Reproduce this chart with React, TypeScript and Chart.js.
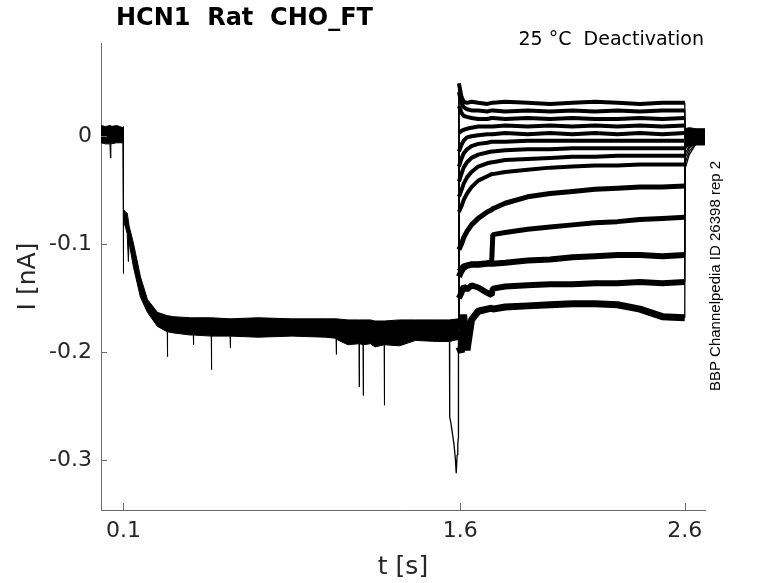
import React, { useRef, useEffect } from 'react';
import Chart from 'chart.js/auto';

const FONT = "'DejaVu Sans', sans-serif";
const INK = '#262626';
const AXIS = '#6b6b6b';

const xTicks = [0.1, 1.6, 2.6];
const yTicks = [0, -0.1, -0.2, -0.3];

// holding + activation step, shared by all sweeps: upper / lower edge of the noise band
const envT = [
  0, 0.02, 0.04, 0.042, 0.044, 0.07, 0.098, 0.0995, 0.1, 0.101, 0.11, 0.1165, 0.122, 0.125,
  0.1445, 0.1757, 0.2068, 0.2513, 0.295, 0.296, 0.297, 0.3225, 0.398, 0.411, 0.412, 0.413,
  0.491, 0.492, 0.493, 0.575, 0.576, 0.577, 0.7, 0.85, 1.0, 1.047, 1.048, 1.049, 1.1, 1.149,
  1.15, 1.151, 1.167, 1.168, 1.169, 1.2, 1.22, 1.261, 1.262, 1.263, 1.33, 1.4, 1.5, 1.551, 1.593,
];
const envUpper = [
  0.010, 0.009, 0.010, 0.010, 0.009, 0.010, 0.008, 0.009, -0.066, -0.068, -0.070, -0.071, -0.078, -0.083,
  -0.099, -0.130, -0.151, -0.163, -0.166, -0.166, -0.166, -0.167, -0.168, -0.168, -0.168, -0.168,
  -0.168, -0.168, -0.168, -0.169, -0.169, -0.169, -0.168, -0.169, -0.169, -0.169, -0.169, -0.169, -0.170, -0.170,
  -0.170, -0.170, -0.170, -0.170, -0.170, -0.170, -0.171, -0.171, -0.171, -0.171, -0.170, -0.170, -0.170, -0.170, -0.169,
];
const envLower = [
  -0.006, -0.007, -0.007, -0.020, -0.007, -0.006, -0.006, -0.006, -0.127, -0.078, -0.085, -0.090, -0.116, -0.098,
  -0.121, -0.149, -0.163, -0.176, -0.181, -0.204, -0.181, -0.182, -0.184, -0.184, -0.193, -0.184,
  -0.185, -0.216, -0.185, -0.185, -0.196, -0.185, -0.186, -0.185, -0.186, -0.187, -0.202, -0.188, -0.193, -0.192,
  -0.232, -0.192, -0.193, -0.240, -0.193, -0.192, -0.195, -0.193, -0.249, -0.193, -0.194, -0.189, -0.190, -0.190, -0.188,
];

// the single sweep that dips just before the deactivation step
const dipT = [1.552, 1.553, 1.558, 1.565, 1.572, 1.578, 1.582, 1.586, 1.589, 1.591, 1.592];
const dipI = [-0.19, -0.26, -0.265, -0.275, -0.285, -0.298, -0.312, -0.295, -0.285, -0.28, -0.18];

// deactivation tails, one row per sweep (top to bottom)
const tailT = [1.593, 1.594, 1.605, 1.615, 1.63, 1.65, 1.68, 1.72, 1.74, 1.745, 1.8, 1.9, 2.0, 2.1, 2.2, 2.3, 2.4, 2.5, 2.6, 2.601, 2.62, 2.65];
const sweepA = [-0.178, 0.049, 0.037, 0.032, 0.031, 0.032, 0.031, 0.030, 0.031, 0.031, 0.032, 0.031, 0.030, 0.031, 0.032, 0.031, 0.030, 0.031, 0.031, 0.003, 0.002, 0.001];
const sweepB = [-0.178, 0.041, 0.031, 0.027, 0.025, 0.024, 0.024, 0.023, 0.024, 0.024, 0.023, 0.024, 0.023, 0.024, 0.023, 0.024, 0.023, 0.024, 0.024, 0.001, 0.000, 0.000];
const sweepC = [-0.178, 0.028, 0.022, 0.019, 0.018, 0.017, 0.016, 0.016, 0.017, 0.017, 0.016, 0.017, 0.016, 0.017, 0.016, 0.016, 0.017, 0.016, 0.017, -0.001, -0.001, 0.000];
const sweepD = [-0.178, 0.003, 0.005, 0.006, 0.007, 0.008, 0.009, 0.009, 0.009, 0.009, 0.010, 0.009, 0.010, 0.009, 0.010, 0.009, 0.010, 0.009, 0.010, -0.002, -0.001, 0.000];
const sweepE = [-0.178, -0.014, -0.008, -0.004, -0.001, 0.000, 0.001, 0.002, 0.002, 0.002, 0.003, 0.002, 0.003, 0.002, 0.003, 0.002, 0.003, 0.002, 0.003, -0.003, -0.002, -0.001];
const sweepF = [-0.178, -0.028, -0.021, -0.016, -0.012, -0.009, -0.007, -0.006, -0.005, -0.005, -0.005, -0.004, -0.004, -0.004, -0.004, -0.004, -0.004, -0.004, -0.004, -0.004, -0.003, -0.001];
const sweepG = [-0.178, -0.042, -0.035, -0.029, -0.024, -0.020, -0.017, -0.015, -0.014, -0.014, -0.013, -0.012, -0.012, -0.011, -0.011, -0.011, -0.011, -0.011, -0.011, -0.005, -0.003, -0.001];
const sweepH = [-0.178, -0.056, -0.050, -0.044, -0.038, -0.033, -0.028, -0.025, -0.024, -0.024, -0.022, -0.021, -0.020, -0.019, -0.019, -0.018, -0.018, -0.018, -0.018, -0.006, -0.004, -0.002];
const sweepI = [-0.178, -0.070, -0.065, -0.059, -0.053, -0.047, -0.041, -0.037, -0.035, -0.035, -0.033, -0.031, -0.029, -0.028, -0.027, -0.027, -0.026, -0.026, -0.026, -0.008, -0.005, -0.002];
const sweepJ = [-0.178, -0.105, -0.100, -0.094, -0.088, -0.082, -0.076, -0.070, -0.068, -0.067, -0.062, -0.056, -0.053, -0.051, -0.049, -0.048, -0.047, -0.047, -0.046, -0.012, -0.007, -0.003];
const sweepK = [-0.178, -0.125, -0.122, -0.120, -0.119, -0.118, -0.118, -0.117, -0.116, -0.091, -0.089, -0.086, -0.084, -0.082, -0.080, -0.079, -0.077, -0.076, -0.075, -0.016, -0.009, -0.004];
const sweepL = [-0.178, -0.130, -0.125, -0.122, -0.120, -0.119, -0.119, -0.118, -0.118, -0.118, -0.117, -0.115, -0.114, -0.112, -0.111, -0.110, -0.110, -0.111, -0.110, -0.020, -0.011, -0.005];
const sweepM = [-0.178, -0.150, -0.145, -0.139, -0.142, -0.138, -0.140, -0.145, -0.147, -0.141, -0.139, -0.138, -0.137, -0.137, -0.136, -0.136, -0.135, -0.136, -0.135, -0.025, -0.014, -0.006];
const sweepN = [-0.178, -0.195, -0.200, -0.165, -0.198, -0.170, -0.162, -0.160, -0.159, -0.160, -0.158, -0.157, -0.156, -0.155, -0.155, -0.156, -0.160, -0.167, -0.168, -0.030, -0.017, -0.007];
const sweeps = [sweepA, sweepB, sweepC, sweepD, sweepE, sweepF, sweepG, sweepH, sweepI, sweepJ, sweepK, sweepL, sweepM, sweepN];
// visual thickness of each tail's noise
const noiseWidth = [4, 4, 4, 4, 4, 4, 4, 4, 4, 5, 5, 6, 6, 7];

// back at holding potential
const endT = [2.6, 2.62, 2.65, 2.69];
const endUpper = [0.007, 0.008, 0.007, 0.007];
const endLower = [-0.009, -0.009, -0.008, -0.008];

const pts = (t: number[], v: number[]) => t.map((x, i) => ({ x, y: v[i] }));

const overlay = {
  id: 'overlay',
  afterDraw(chart: any) {
    const { ctx, chartArea: a, scales } = chart;
    ctx.save();
    ctx.strokeStyle = AXIS;
    ctx.lineWidth = 1;
    ctx.beginPath();
    xTicks.forEach((v) => {
      const px = Math.round(scales.x.getPixelForValue(v)) + 0.5;
      ctx.moveTo(px, a.bottom);
      ctx.lineTo(px, a.bottom - 7);
    });
    yTicks.forEach((v) => {
      const py = Math.round(scales.y.getPixelForValue(v)) + 0.5;
      ctx.moveTo(a.left, py);
      ctx.lineTo(a.left + 6, py);
    });
    ctx.stroke();

    ctx.fillStyle = '#000';
    ctx.textBaseline = 'middle';
    ctx.textAlign = 'left';
    ctx.font = `bold 24px ${FONT}`;
    ctx.fillText('HCN1  Rat  CHO_FT', 116, 19);
    ctx.textAlign = 'right';
    ctx.font = `19px ${FONT}`;
    ctx.fillText('25 °C  Deactivation', 704, 40);

    ctx.translate(716, 276);
    ctx.rotate(-Math.PI / 2);
    ctx.textAlign = 'center';
    ctx.font = "15px 'Liberation Sans', sans-serif";
    ctx.fillText('BBP Channelpedia ID 26398 rep 2', 0, 0);
    ctx.restore();
  },
};

const App: React.FC = () => {
  const ref = useRef<HTMLCanvasElement>(null);

  useEffect(() => {
    if (!ref.current) return;
    const line = { borderColor: '#000', pointRadius: 0, tension: 0, borderJoinStyle: 'bevel' as const };

    const datasets: any[] = [
      { ...line, data: pts(envT, envUpper), borderWidth: 1, fill: '+1', backgroundColor: '#000' },
      { ...line, data: pts(envT, envLower), borderWidth: 1, fill: false },
      { ...line, data: pts(endT, endUpper), borderWidth: 1, fill: '+1', backgroundColor: '#000' },
      { ...line, data: pts(endT, endLower), borderWidth: 1, fill: false },
      { ...line, data: pts(dipT, dipI), borderWidth: 1.3, fill: false },
      ...sweeps.map((s, k) => ({
        ...line,
        data: pts(tailT, s),
        borderWidth: noiseWidth[k],
        fill: false,
        segment: {
          borderWidth: (c: any) => (c.p0DataIndex === 0 || c.p0DataIndex >= 18 ? 1.3 : noiseWidth[k]),
        },
      })),
    ];

    const chart = new Chart(ref.current, {
      type: 'line',
      data: { datasets },
      plugins: [overlay],
      options: {
        animation: false,
        responsive: true,
        maintainAspectRatio: false,
        events: [],
        layout: { padding: { top: 43, right: 73, bottom: 0, left: 0 } },
        plugins: { legend: { display: false }, tooltip: { enabled: false } },
        scales: {
          x: {
            type: 'linear',
            min: 0,
            max: 2.69,
            afterBuildTicks: (s: any) => { s.ticks = xTicks.map((value) => ({ value })); },
            afterFit: (s: any) => { s.height = 73; },
            ticks: { color: INK, font: { family: FONT, size: 22 }, padding: 8, callback: (v: any) => String(v), maxRotation: 0 },
            grid: { drawOnChartArea: false, drawTicks: false },
            border: { display: true, color: AXIS, width: 1 },
            title: { display: true, text: 't [s]', color: INK, font: { family: FONT, size: 25 }, padding: { top: 0, bottom: 1 } },
          },
          y: {
            type: 'linear',
            min: -0.346,
            max: 0.0864,
            afterBuildTicks: (s: any) => { s.ticks = yTicks.map((value) => ({ value })); },
            afterFit: (s: any) => { s.width = 101; },
            ticks: { color: INK, font: { family: FONT, size: 22 }, padding: 9, callback: (v: any) => String(v) },
            grid: { drawOnChartArea: false, drawTicks: false },
            border: { display: true, color: AXIS, width: 1 },
            title: { display: true, text: 'I [nA]', color: INK, font: { family: FONT, size: 25 }, padding: { top: 13, bottom: 0 } },
          },
        },
      } as any,
    });

    return () => chart.destroy();
  }, []);

  return (
    <div style={{ position: 'fixed', left: 0, top: 0, width: 778, height: 583, background: '#fff' }}>
      <canvas ref={ref}></canvas>
    </div>
  );
};

export default App;
